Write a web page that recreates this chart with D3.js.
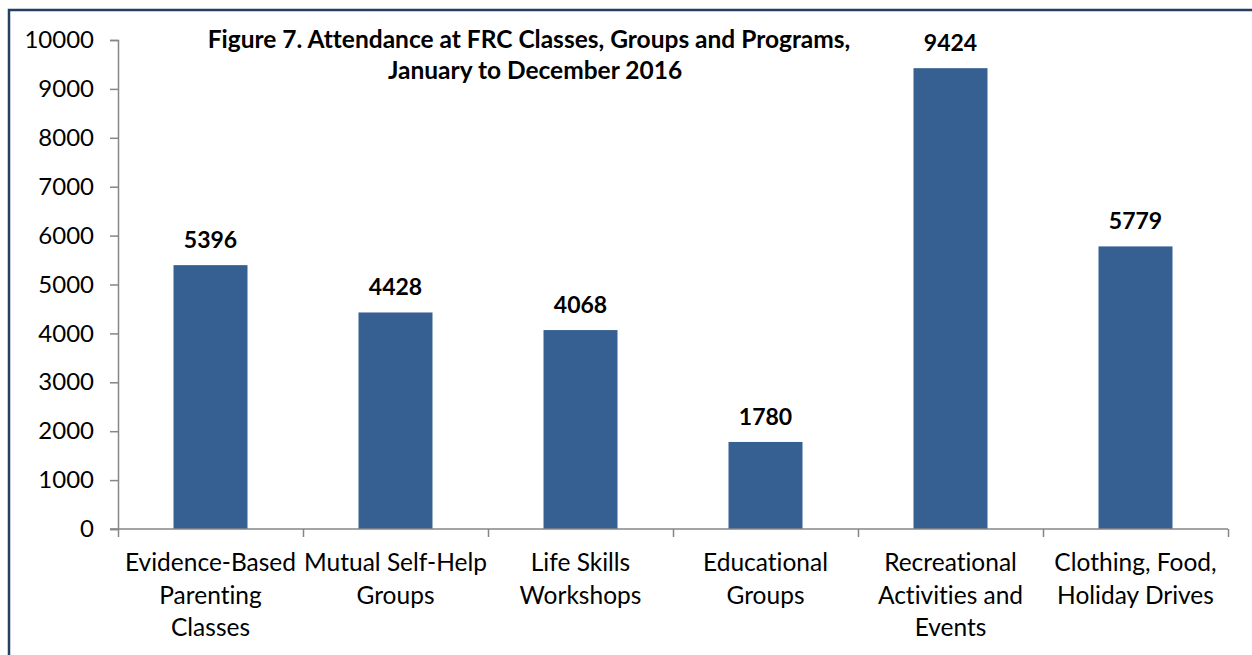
<!DOCTYPE html>
<html>
<head>
<meta charset="utf-8">
<script src="https://cdn.jsdelivr.net/npm/d3@7"></script>
<style>
  body { margin: 0; background: #fff; }
  svg { display: block; font-family: Lato, "Open Sans", sans-serif; font-variant-ligatures: none; }
</style>
</head>
<body>
<svg></svg>
<script>
var width = 1252, height = 655;

var categories = ["Evidence-Based Parenting Classes", "Mutual Self-Help Groups", "Life Skills Workshops",
                  "Educational Groups", "Recreational Activities and Events", "Clothing, Food, Holiday Drives"];
var categoryLines = [["Evidence-Based", "Parenting", "Classes"],
                     ["Mutual Self-Help", "Groups"],
                     ["Life Skills", "Workshops"],
                     ["Educational", "Groups"],
                     ["Recreational", "Activities and", "Events"],
                     ["Clothing, Food,", "Holiday Drives"]];
var attendance = [5396, 4428, 4068, 1780, 9424, 5779];
var yTicks = [0, 1000, 2000, 3000, 4000, 5000, 6000, 7000, 8000, 9000, 10000];
var titleLines = ["Figure 7. Attendance at FRC Classes, Groups and Programs,", "January to December 2016"];

var plotLeft = 118, plotRight = 1228, plotTop = 40, plotBottom = 529;

var svg = d3.select("svg").attr("width", width).attr("height", height);

// outer frame (right and bottom edges fall outside the picture)
svg.append("rect")
   .attr("x", 9).attr("y", 10)
   .attr("width", 1400).attr("height", 800)
   .attr("fill", "none")
   .attr("stroke", "#243f60")
   .attr("stroke-width", 2.5);

var xScale = d3.scaleBand()
               .domain(categories)
               .range([plotLeft, plotRight])
               .paddingInner(0.6)
               .paddingOuter(0.3);

var yScale = d3.scaleLinear()
               .domain([0, 10000])
               .range([plotBottom, plotTop]);

// bars
svg.selectAll(".bar")
   .data(attendance)
   .enter()
   .append("rect")
   .attr("class", "bar")
   .attr("x", (d, i) => xScale(categories[i]))
   .attr("y", d => yScale(d))
   .attr("width", xScale.bandwidth())
   .attr("height", d => yScale(0) - yScale(d))
   .attr("fill", "#376092");

// value labels
svg.selectAll(".val")
   .data(attendance)
   .enter()
   .append("text")
   .attr("class", "val")
   .attr("x", (d, i) => xScale(categories[i]) + xScale.bandwidth() / 2)
   .attr("y", d => yScale(d) - 17)
   .attr("text-anchor", "middle")
   .style("font-weight", "bold")
   .style("font-size", "23px")
   .text(d => d);

// y axis
var yAxis = d3.axisLeft(yScale).tickValues(yTicks).tickSize(8).tickPadding(16).tickFormat(d3.format("d"));
var gy = svg.append("g")
   .attr("transform", "translate(" + plotLeft + ",0)")
   .call(yAxis);
gy.selectAll("path, line").attr("stroke", "#868686").attr("stroke-width", 1.5);
gy.selectAll("text").style("font-size", "24px").style("font-family", "Lato").attr("fill", "#000");

// x axis: boundary ticks between categories
var edgeScale = d3.scaleLinear().domain([0, categories.length]).range([plotLeft, plotRight]);
var xAxis = d3.axisBottom(edgeScale).ticks(categories.length).tickSize(8).tickFormat("");
var gx = svg.append("g")
   .attr("transform", "translate(0," + plotBottom + ")")
   .call(xAxis);
gx.select(".domain").attr("d", "M" + (plotLeft - 8) + ",0H" + plotRight);
gx.selectAll("path, line").attr("stroke", "#868686").attr("stroke-width", 1.5);

// category labels
svg.selectAll(".cat")
   .data(categories)
   .enter()
   .append("text")
   .attr("class", "cat")
   .attr("x", d => xScale(d) + xScale.bandwidth() / 2)
   .attr("y", plotBottom + 42)
   .attr("text-anchor", "middle")
   .style("font-size", "24.5px")
   .each(function (d, i) {
     d3.select(this).selectAll("tspan")
       .data(categoryLines[i])
       .enter()
       .append("tspan")
       .attr("x", xScale(d) + xScale.bandwidth() / 2)
       .attr("dy", (t, j) => j === 0 ? 0 : 32.5)
       .text(t => t);
   });

// title
svg.selectAll(".title")
   .data(titleLines)
   .enter()
   .append("text")
   .attr("class", "title")
   .attr("x", (d, i) => i === 0 ? 529 : 535)
   .attr("y", (d, i) => 48 + i * 31)
   .attr("text-anchor", "middle")
   .style("font-weight", "bold")
   .style("font-size", "24.5px")
   .text(d => d);
</script>
</body>
</html>
